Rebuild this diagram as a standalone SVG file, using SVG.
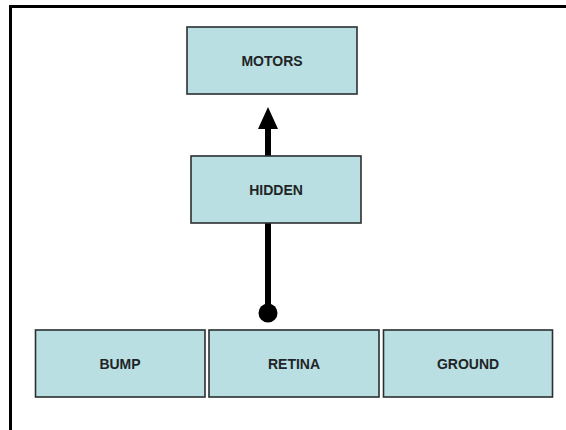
<svg xmlns="http://www.w3.org/2000/svg" width="566" height="430" viewBox="0 0 566 430">
<style>
.box{fill:#b9dfe3;stroke:#2b2f30;stroke-width:1.6}
.lbl{font-family:"Liberation Sans",Arial,sans-serif;font-weight:bold;font-size:14px;fill:#1f2526;text-anchor:middle}
.wire{stroke:#000;stroke-width:6;fill:none}
</style>
<defs>
<marker id="arrow" markerUnits="userSpaceOnUse" markerWidth="22" markerHeight="22" refX="0" refY="10" orient="auto" viewBox="0 0 22 20">
<path d="M0,0 L22,10 L0,20 Z" fill="#000"/>
</marker>
<marker id="dot" markerUnits="userSpaceOnUse" markerWidth="20" markerHeight="20" refX="10" refY="10" viewBox="0 0 20 20">
<circle cx="10" cy="10" r="9.5" fill="#000"/>
</marker>
</defs>
<rect width="566" height="430" fill="#fff"/>
<path d="M9,6.5 H566 M10.5,5 V430" stroke="#000" stroke-width="3" fill="none"/>
<g id="connectors">
<path class="wire" d="M268,313 V129" marker-start="url(#dot)" marker-end="url(#arrow)"/>
</g>
<g id="motors">
<rect class="box" x="187" y="27" width="170" height="67"/>
<text class="lbl" x="272" y="66">MOTORS</text>
</g>
<g id="hidden">
<rect class="box" x="191" y="156" width="170" height="67"/>
<text class="lbl" x="276" y="195">HIDDEN</text>
</g>
<g id="bump">
<rect class="box" x="35.5" y="330" width="169.5" height="67"/>
<text class="lbl" x="120" y="369">BUMP</text>
</g>
<g id="retina">
<rect class="box" x="209" y="330" width="170" height="67"/>
<text class="lbl" x="294" y="369">RETINA</text>
</g>
<g id="ground">
<rect class="box" x="383.5" y="330" width="169" height="67"/>
<text class="lbl" x="468" y="369">GROUND</text>
</g>
</svg>
